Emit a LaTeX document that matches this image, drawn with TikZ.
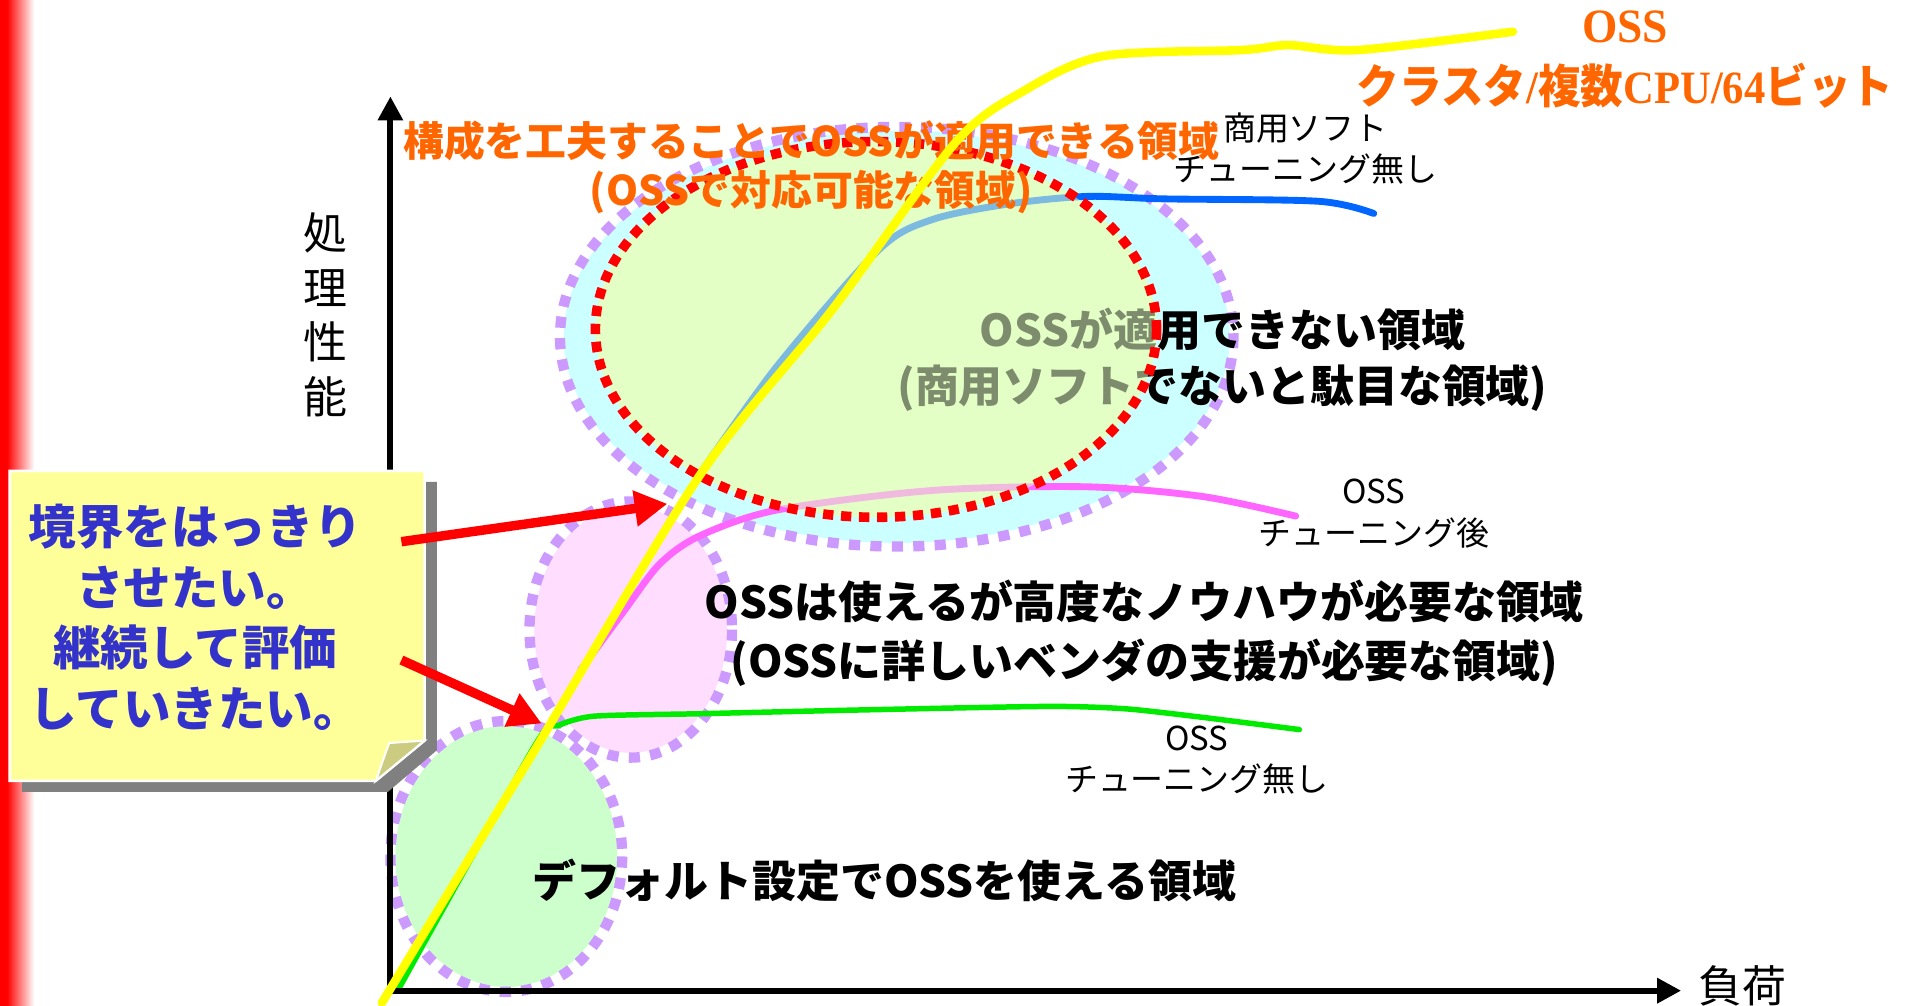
\documentclass[tikz,border=0pt]{standalone}
\usepackage{fontspec}
\usepackage{graphicx}
\setmainfont{Noto Sans CJK JP}
\newfontfamily\serifb{Liberation Serif}
\usetikzlibrary{arrows.meta}
\definecolor{orangeT}{RGB}{255,102,0}
\definecolor{cyanF}{RGB}{204,255,255}
\definecolor{ygF}{RGB}{228,255,198}
\definecolor{pinkF}{RGB}{255,221,255}
\definecolor{greenF}{RGB}{204,255,204}
\definecolor{lav}{RGB}{204,153,255}
\definecolor{blueL}{RGB}{0,102,255}
\definecolor{pinkL}{RGB}{255,102,255}
\definecolor{greenL}{RGB}{0,235,0}
\definecolor{yellowL}{RGB}{255,255,0}
\definecolor{boxY}{RGB}{255,255,153}
\definecolor{textBlue}{RGB}{51,51,204}
\definecolor{khaki}{RGB}{204,204,128}
\definecolor{shadowG}{RGB}{128,128,128}
\pgfdeclarehorizontalshading{redfade}{100bp}{color(0bp)=(red); color(25bp)=(red); color(35bp)=(red); color(75bp)=(white); color(100bp)=(white)}
\tikzset{
  lavb/.style={draw=lav, line width=6pt, dash pattern=on 6.5pt off 6pt},
  reddot/.style={draw=red, line width=5.6pt, dash pattern=on 6pt off 4.5pt},
  crv/.style={line cap=round, line join=round},
  lbl/.style={inner sep=0pt, align=center},
  bigtxt/.style={lbl, font=\fontsize{25.6}{33}\selectfont\bfseries},
  smalltxt/.style={lbl, font=\fontsize{19.2}{24}\selectfont},
  callarrow/.style={draw=red, line width=5.5pt, -{Triangle[length=19pt,width=20pt]}},
}
\begin{document}
\begin{tikzpicture}[x=0.025cm,y=-0.025cm]
\useasboundingbox (0,0) rectangle (1568,824);
\fill[white] (0,0) rectangle (1568,824);
% left red gradient bar
\shade[shading=redfade] (0,0) rectangle (28,824);

% region ellipses
\path[fill=greenF] (415,702) ellipse [x radius=91, y radius=107];
\path[lavb] (415,702) ellipse [x radius=95, y radius=111];
\path[fill=pinkF] (517,516) ellipse [x radius=79, y radius=101];
\path[lavb] (517,516) ellipse [x radius=83, y radius=105];
\path[fill=cyanF] (735,276) ellipse [x radius=273, y radius=169];
\path[lavb] (735,276) ellipse [x radius=276, y radius=172];
\path[fill=ygF] (718,270) ellipse [x radius=230, y radius=154];

% curves drawn under the semi-transparent region
\draw[crv, blueL, line width=1.2pt] plot[smooth, tension=0.5] coordinates {(318,815) (446,602) (574,388)};
\draw[crv, blueL, line width=4pt] plot[smooth, tension=0.5] coordinates {(574,388) (637,300) (720,205) (764,180) (828,167) (891,161) (954,163) (1081,165) (1126,175)};
\draw[crv, pinkL, line width=1.2pt] (320,812) -- (476,549);
\draw[crv, pinkL, line width=4pt] plot[smooth, tension=0.5] coordinates {(476,549) (512,500) (541,462) (574,439) (637,418) (764,402) (891,399) (986,407) (1062,423)};
\draw[crv, greenL, line width=3.2pt] plot[smooth, tension=0.4] coordinates {(326,812) (439,610) (457,595) (487,587) (574,585) (701,582) (859,579) (923,581) (986,588) (1065,598)};

\node[bigtxt] (ng) at (1002,295) {OSSが適用できない領域\\(商用ソフトでないと駄目な領域)};

% semi-transparent fill and red dotted border
\path[fill=ygF, fill opacity=0.55] (718,270) ellipse [x radius=230, y radius=154];
\path[reddot] (718,270) ellipse [x radius=230, y radius=154];

% axes
\draw[line width=3.5pt, {Triangle[length=14pt,width=14pt]}-{Triangle[length=14pt,width=14pt]}] (320,79) -- (320,812) -- (1378,812);
\node[lbl, font=\fontsize{25.6}{32}\selectfont] (ylab) at (267,258) {処\\理\\性\\能};
\node[lbl, font=\fontsize{25.6}{32}\selectfont] (xlab) at (1428,808) {負荷};

% region texts
\node[bigtxt, font=\fontsize{25.6}{34}\selectfont\bfseries] (mid) at (938,519) {OSSは使えるが高度なノウハウが必要な領域\\(OSSに詳しいベンダの支援が必要な領域)};
\node[bigtxt] (def) at (725,722) {デフォルト設定でOSSを使える領域};

% curve labels
\node[smalltxt] (comm) at (1070,122) {商用ソフト\\チューニング無し};
\node[smalltxt] (tuned) at (1126,421) {OSS\\チューニング後};
\node[smalltxt] (untuned) at (981,623) {OSS\\チューニング無し};

% callout box
\fill[shadowG] (18,395) -- (358,395) -- (358,615) -- (318,649) -- (18,649) -- cycle;
\draw[white, line width=1.5pt, fill=boxY] (8,386) -- (348,386) -- (348,607) -- (308,640) -- (8,640) -- cycle;
\draw[white, line width=1.2pt, fill=khaki] (348,607) -- (319,609) .. controls (315,620) .. (308,640) -- cycle;
\node[lbl, text=textBlue, font=\fontsize{27.7}{35.2}\selectfont\bfseries] (call) at (160,506) {境界をはっきり\\させたい。\\継続して評価\\していきたい。};

\coordinate (a1s) at (329,444);
\coordinate (a1e) at (547,413);
\coordinate (a2s) at (329,541);
\coordinate (a2e) at (444,593);
\draw[callarrow] (a1s) -- (a1e);
\draw[callarrow] (a2s) -- (a2e);

% orange texts
\node[lbl, text=orangeT, font=\fontsize{23.8}{28.5}\selectfont\bfseries] (cfg) at (665,137) {構成を工夫することでOSSが適用できる領域\\(OSSで対応可能な領域)};
\node[lbl, text=orangeT, font=\fontsize{27.9}{30}\selectfont\serifb\bfseries] (toposs) at (1332,22) {\scalebox{0.95}[1]{OSS}};
\node[lbl, text=orangeT, font=\fontsize{27}{30}\selectfont\bfseries] (topcl) at (1332,70) {\scalebox{0.92}[1]{クラスタ{\serifb /}複数{\serifb CPU/64}ビット}};

% yellow curve on top
\draw[crv, yellowL, line width=5pt] plot[smooth, tension=0.5] coordinates {(313,822) (440,612) (574,389) (682,254) (783,117) (840,74) (904,46) (1018,41) (1056,37) (1113,41) (1240,26)};
\end{tikzpicture}
\end{document}
